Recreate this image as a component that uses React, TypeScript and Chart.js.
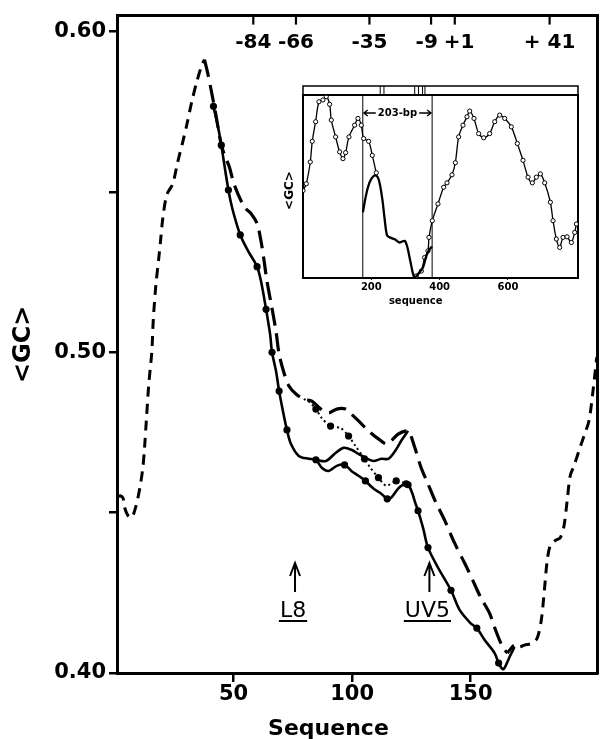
import React, { useEffect, useRef } from "react";
import { Chart, registerables } from "chart.js";

Chart.register(...registerables);

// ---------------- main chart data ----------------
const xRange = [0.8, 203.3];
const yRange = [0.4, 0.605];
const xTickValues = [50, 100, 150];
const yTickValues = [0.4, 0.45, 0.5, 0.55, 0.6];
const yTickLabels = ["0.40", "", "0.50", "", "0.60"];
// promoter coordinates on the top axis (sequence position minus offset)
const promoterOffset = 142.3;
const topTickValues = [-84, -66, -35, -9, 1, 41];
const topTickLabels = ["-84", "-66", "-35", "-9", "+1", "+ 41"];
const mutantLabels = ["L8", "UV5"];
const mutantSites = [75.9, 132.6];

// short-dashed profile, left part
const curveA: [number, number][] = [
  [0.8, 0.4547], [2.1, 0.4553], [3.4, 0.4544], [4.0, 0.4516], [5.5, 0.449], [7.0, 0.4484],
  [8.8, 0.452], [10.5, 0.458], [11.7, 0.464], [12.4, 0.47], [13.2, 0.479], [14.2, 0.49],
  [15.5, 0.5003], [16.1, 0.51], [17.2, 0.521], [18.4, 0.5292], [19.2, 0.535], [20.1, 0.5416],
  [21.8, 0.5491], [24.3, 0.5525], [26.4, 0.5593], [28.5, 0.5655], [30.2, 0.5708], [32.3, 0.578],
  [34.4, 0.5842], [36.5, 0.5894], [37.7, 0.5913],
];
// long-dashed profile
const curveB: [number, number][] = [
  [37.7, 0.5913], [39.0, 0.5873], [40.7, 0.5811], [42.7, 0.5733], [44.8, 0.5646], [46.5, 0.5609],
  [48.2, 0.5578], [50.3, 0.5522], [54.5, 0.5453], [57.4, 0.5432], [59.9, 0.5401], [61.6, 0.5345],
  [62.9, 0.5283], [64.1, 0.522], [66.2, 0.5137], [67.9, 0.5065], [69.2, 0.4994], [71.3, 0.4935],
  [73.4, 0.4894], [76.3, 0.487], [79.6, 0.4854], [83.0, 0.4848], [86.8, 0.4823], [90.1, 0.4811],
  [93.5, 0.4823], [97.2, 0.4823], [99.7, 0.4807], [102.7, 0.4786], [106.9, 0.4755], [111.1, 0.473],
  [114.4, 0.4714], [116.5, 0.4724], [119.4, 0.4745], [122.8, 0.4755], [124.1, 0.4752], [126.6, 0.4699],
  [129.1, 0.464], [132.0, 0.459], [135.0, 0.4537], [139.1, 0.4475], [143.3, 0.4404], [147.5, 0.4342],
  [150.9, 0.4289], [154.2, 0.4236], [158.0, 0.4186], [160.5, 0.4134], [163.5, 0.4081], [165.5, 0.4062],
];
// short-dashed profile, right part
const curveC: [number, number][] = [
  [165.5, 0.4062], [166.4, 0.4071], [168.5, 0.4087], [170.6, 0.4081], [172.7, 0.4087], [176.0, 0.4093],
  [178.1, 0.4109], [179.8, 0.4165], [181.1, 0.4258], [182.3, 0.4351], [183.6, 0.4398], [185.7, 0.4413],
  [187.8, 0.4422], [189.4, 0.446], [190.7, 0.4537], [192.0, 0.4615], [193.6, 0.4646], [195.7, 0.4693],
  [197.8, 0.4739], [199.9, 0.4786], [201.6, 0.4879], [203.2, 0.4985],
];
// solid profile with filled dots
const curveD: [number, number][] = [
  [41.5, 0.5767], [43.6, 0.5696], [44.8, 0.5646], [47.8, 0.5506], [49.5, 0.5447], [52.8, 0.5366],
  [56.2, 0.5315], [59.9, 0.5267], [61.6, 0.522], [63.7, 0.5134], [65.4, 0.5056], [66.2, 0.5],
  [67.9, 0.4941], [69.2, 0.4879], [70.8, 0.4817], [72.5, 0.4758], [74.2, 0.4714], [77.5, 0.4677],
  [81.7, 0.4668], [84.7, 0.4665], [87.2, 0.464], [90.1, 0.463], [93.5, 0.4646], [96.8, 0.4649],
  [99.7, 0.463], [102.7, 0.4615], [105.6, 0.4599], [109.0, 0.4575], [112.3, 0.4559], [114.8, 0.4543],
  [116.5, 0.4547], [119.4, 0.4575], [121.5, 0.4587], [123.6, 0.4587], [125.3, 0.4562], [126.6, 0.4531],
  [127.8, 0.4506], [130.0, 0.445], [132.0, 0.4391], [136.2, 0.4329], [141.7, 0.4258], [145.4, 0.4196],
  [150.0, 0.4155], [152.6, 0.414], [155.9, 0.4103], [160.1, 0.4062], [161.8, 0.4031], [163.5, 0.4012],
  [164.3, 0.4016], [166.4, 0.405], [168.5, 0.4081],
];
const dotsD: [number, number][] = [
  [41.5, 0.5767], [44.8, 0.5646], [47.8, 0.5506], [52.8, 0.5366], [59.9, 0.5267], [63.7, 0.5134],
  [66.2, 0.5], [69.2, 0.4879], [72.5, 0.4758], [84.7, 0.4665], [96.8, 0.4649], [105.6, 0.4599],
  [114.8, 0.4543], [123.6, 0.4587], [127.8, 0.4506], [132.0, 0.4391], [141.7, 0.4258], [152.6, 0.414],
  [161.8, 0.4031],
];
// upper solid profile without dots
const curveE: [number, number][] = [
  [84.7, 0.4665], [88.9, 0.4661], [93.0, 0.4686], [96.4, 0.4702], [99.7, 0.4696], [102.7, 0.4683],
  [105.6, 0.4671], [109.0, 0.4661], [112.3, 0.4668], [115.3, 0.4668], [118.2, 0.4693], [120.7, 0.4724],
  [123.6, 0.4755],
];
// dotted profile with dots
const curveF: [number, number][] = [
  [79.6, 0.4854], [82.0, 0.4845], [84.7, 0.4823], [87.2, 0.4795], [90.9, 0.477], [95.1, 0.4764],
  [98.5, 0.4739], [101.4, 0.4708], [105.2, 0.4668], [107.7, 0.464], [111.1, 0.4609], [114.4, 0.4584],
  [118.6, 0.4599], [122.8, 0.459],
];
const dotsF: [number, number][] = [
  [84.7, 0.4823], [90.9, 0.477], [98.5, 0.4739], [105.2, 0.4668], [111.1, 0.4609], [118.6, 0.4599],
  [122.8, 0.459],
];

// ---------------- inset data ----------------
const insetXRange = [0, 805];
const insetYRange = [0, 100];
const insetXTicks = [200, 400, 600];
const insetWindow = [175, 378];
const insetWindowLabel = "203-bp";
const insetMapMarks = [226, 237, 327, 338, 350, 357];
const insetI1: [number, number][] = [
  [0, 47.8], [9.6, 51.5], [21.3, 63.4], [27.1, 74.7], [36.9, 85.4], [46.7, 96.3], [58.4, 97.3],
  [68.1, 99.1], [77.9, 94.9], [82.8, 86.3], [95.5, 77.1], [107.2, 68.9], [116.9, 65.2], [124.7, 68.5],
  [134.5, 77.1], [151.1, 83.5], [160.9, 87.2], [170.6, 83.5], [177.5, 76.2], [192.1, 74.7],
  [202.8, 67.0], [214.5, 57.5],
];
const insetI2: [number, number][] = [
  [175.5, 35.9], [180.4, 41.4], [190.1, 49.6], [199.9, 54.2], [212.6, 56.1], [222.4, 53.3],
  [232.1, 43.2], [239.0, 32.2], [245.8, 23.4], [253.6, 22.2], [268.2, 21.2], [282.9, 19.4],
  [297.5, 20.3], [304.4, 17.6], [314.1, 9.3], [323.9, 1.1], [329.7, 0.6], [339.5, 2.9],
  [351.2, 5.7], [361.0, 12.1], [370.7, 15.8], [377.6, 17.2],
];
const insetI3: [number, number][] = [
  [331.7, 1.1], [346.3, 3.8], [356.1, 11.2], [365.8, 14.8], [368.8, 22.2], [378.5, 31.3],
  [395.1, 40.5], [411.7, 49.6], [421.5, 52.0], [436.1, 56.4], [445.9, 63.0], [455.6, 77.1],
  [468.3, 83.5], [480.0, 88.1], [487.9, 91.2], [500.5, 87.2], [514.2, 78.9], [528.9, 76.6],
  [546.4, 78.9], [561.1, 85.4], [575.7, 89.0], [590.4, 87.2], [609.9, 82.6], [627.4, 73.5],
  [644.0, 64.3], [658.7, 55.1], [671.3, 52.0], [683.1, 55.1], [694.8, 56.9], [707.5, 52.0],
  [724.1, 41.4], [731.9, 31.3], [741.6, 21.3], [751.4, 16.7], [761.2, 22.2], [772.9, 22.5],
  [785.6, 19.4], [795.3, 24.9], [800.2, 29.5],
];

const FONT = '"DejaVu Sans", sans-serif';
const toXY = (arr: [number, number][]) => arr.map(([x, y]) => ({ x, y }));

const mainDecor = {
  id: "mainDecor",
  afterDraw(chart: any) {
    const { ctx, chartArea } = chart;
    const x2 = chart.scales.x2;
    const xs = chart.scales.x;
    ctx.save();
    ctx.fillStyle = "#000";
    ctx.strokeStyle = "#000";
    // top promoter ticks and labels (inside frame)
    ctx.lineWidth = 2.2;
    ctx.font = `bold 20px ${FONT}`;
    ctx.textAlign = "center";
    ctx.textBaseline = "middle";
    const pxs = topTickValues.map((v) => x2.getPixelForValue(v));
    const widths = topTickLabels.map((t) => ctx.measureText(t).width);
    const centers = pxs.slice();
    const gap = 6;
    for (let i = 1; i < centers.length; i++) {
      const need = (widths[i - 1] + widths[i]) / 2 + gap;
      const have = centers[i] - centers[i - 1];
      if (have < need) {
        const d = (need - have) / 2;
        centers[i - 1] -= d;
        centers[i] += d;
      }
    }
    pxs.forEach((px, i) => {
      ctx.beginPath();
      ctx.moveTo(px, chartArea.top);
      ctx.lineTo(px, chartArea.top + 9);
      ctx.stroke();
      ctx.fillText(topTickLabels[i], centers[i], chartArea.top + 27);
    });
    // mutant arrows and labels
    ctx.font = `22px ${FONT}`;
    ctx.lineWidth = 2;
    mutantSites.forEach((v, i) => {
      const px = xs.getPixelForValue(v);
      const tip = chartArea.bottom - 110;
      ctx.beginPath();
      ctx.moveTo(px, chartArea.bottom - 81);
      ctx.lineTo(px, tip);
      ctx.moveTo(px - 5, tip + 13);
      ctx.lineTo(px, tip);
      ctx.lineTo(px + 5, tip + 13);
      ctx.stroke();
      ctx.textBaseline = "alphabetic";
      const w = ctx.measureText(mutantLabels[i]).width;
      ctx.fillText(mutantLabels[i], px - 2, chartArea.bottom - 56);
      ctx.beginPath();
      ctx.moveTo(px - 2 - w / 2 - 1, chartArea.bottom - 52);
      ctx.lineTo(px - 2 + w / 2 + 1, chartArea.bottom - 52);
      ctx.stroke();
    });
    // axis titles
    ctx.font = `bold 22px ${FONT}`;
    ctx.textAlign = "center";
    ctx.textBaseline = "alphabetic";
    ctx.fillText("Sequence", xs.getPixelForValue(90), chartArea.bottom + 62);
    ctx.translate(30, (chartArea.top + chartArea.bottom) / 2);
    ctx.rotate(-Math.PI / 2);
    ctx.font = `bold 24px ${FONT}`;
    ctx.fillText("<GC>", 0, 0);
    ctx.restore();
  },
};

const insetDecor = {
  id: "insetDecor",
  afterDraw(chart: any) {
    const { ctx, chartArea } = chart;
    const xs = chart.scales.x;
    ctx.save();
    ctx.fillStyle = "#000";
    ctx.strokeStyle = "#000";
    // gene map band on top
    ctx.lineWidth = 1.5;
    ctx.strokeRect(chartArea.left, chartArea.top - 9, chartArea.right - chartArea.left, 9);
    ctx.lineWidth = 1;
    insetMapMarks.forEach((v) => {
      const px = xs.getPixelForValue(v);
      ctx.beginPath();
      ctx.moveTo(px, chartArea.top - 9);
      ctx.lineTo(px, chartArea.top);
      ctx.stroke();
    });
    // 203-bp window label
    const l = xs.getPixelForValue(insetWindow[0]);
    const r = xs.getPixelForValue(insetWindow[1]);
    const cy = chartArea.top + 18;
    ctx.font = `bold 10px ${FONT}`;
    ctx.textAlign = "center";
    ctx.textBaseline = "middle";
    const w = ctx.measureText(insetWindowLabel).width;
    const cx = (l + r) / 2;
    ctx.fillText(insetWindowLabel, cx, cy);
    ctx.lineWidth = 1.3;
    ctx.beginPath();
    ctx.moveTo(cx - w / 2 - 2, cy);
    ctx.lineTo(l + 1, cy);
    ctx.moveTo(l + 5, cy - 3);
    ctx.lineTo(l + 1, cy);
    ctx.lineTo(l + 5, cy + 3);
    ctx.moveTo(cx + w / 2 + 2, cy);
    ctx.lineTo(r - 1, cy);
    ctx.moveTo(r - 5, cy - 3);
    ctx.lineTo(r - 1, cy);
    ctx.lineTo(r - 5, cy + 3);
    ctx.stroke();
    // axis titles
    ctx.font = `bold 10px ${FONT}`;
    ctx.fillText("sequence", xs.getPixelForValue(330), chartArea.bottom + 23);
    ctx.translate(10, (chartArea.top + chartArea.bottom) / 2 + 4);
    ctx.rotate(-Math.PI / 2);
    ctx.font = `bold 12px ${FONT}`;
    ctx.fillText("<GC>", 0, 0);
    ctx.restore();
  },
};

export default function App() {
  const mainRef = useRef<HTMLCanvasElement>(null);
  const insetRef = useRef<HTMLCanvasElement>(null);

  useEffect(() => {
    document.body.style.margin = "0";
    const black = "#000";
    const tickFont = { family: FONT, size: 21, weight: "bold" as const };

    const main = new Chart(mainRef.current!, {
      type: "line",
      data: {
        datasets: [
          { data: toXY(curveA), borderColor: black, borderWidth: 3, borderDash: [10, 7], pointRadius: 0, tension: 0.3 },
          { data: toXY(curveB), borderColor: black, borderWidth: 3.2, borderDash: [18, 8], pointRadius: 0, tension: 0.3 },
          { data: toXY(curveC), borderColor: black, borderWidth: 3, borderDash: [10, 7], pointRadius: 0, tension: 0.3 },
          { data: toXY(curveD), borderColor: black, borderWidth: 2.6, pointRadius: 0, tension: 0.3 },
          { data: toXY(dotsD), showLine: false, pointRadius: 3.6, pointBackgroundColor: black, pointBorderColor: black, pointBorderWidth: 0 },
          { data: toXY(curveE), borderColor: black, borderWidth: 2.6, pointRadius: 0, tension: 0.3 },
          { data: toXY(curveF), borderColor: black, borderWidth: 2, borderDash: [2, 3], pointRadius: 0, tension: 0.3 },
          { data: toXY(dotsF), showLine: false, pointRadius: 3.6, pointBackgroundColor: black, pointBorderColor: black, pointBorderWidth: 0 },
        ],
      },
      options: {
        responsive: false,
        animation: false,
        devicePixelRatio: 1,
        layout: { padding: 0 },
        plugins: { legend: { display: false }, tooltip: { enabled: false }, title: { display: false } },
        scales: {
          x: {
            type: "linear",
            position: "bottom",
            min: xRange[0],
            max: xRange[1],
            afterBuildTicks: (s: any) => {
              s.ticks = xTickValues.map((v) => ({ value: v }));
            },
            afterFit: (s: any) => {
              s.height = 66;
            },
            grid: { display: true, drawOnChartArea: false, drawTicks: true, tickLength: 9, lineWidth: 2.5, color: black },
            border: { display: true, width: 3, color: black },
            ticks: { font: tickFont, color: black, padding: 0, maxRotation: 0, autoSkip: false, callback: (v: any) => String(v) },
          },
          x2: {
            type: "linear",
            position: "top",
            min: xRange[0] - promoterOffset,
            max: xRange[1] - promoterOffset,
            afterFit: (s: any) => {
              s.height = 13;
            },
            grid: { display: false },
            ticks: { display: false },
            border: { display: true, width: 3, color: black },
          },
          y: {
            type: "linear",
            position: "left",
            min: yRange[0],
            max: yRange[1],
            afterBuildTicks: (s: any) => {
              s.ticks = yTickValues.map((v) => ({ value: v }));
            },
            afterFit: (s: any) => {
              s.width = 117;
            },
            grid: { display: true, drawOnChartArea: false, drawTicks: true, tickLength: 8, lineWidth: 2.5, color: black },
            border: { display: true, width: 3, color: black },
            ticks: { font: tickFont, color: black, padding: 3, autoSkip: false, callback: (_v: any, i: number) => yTickLabels[i] },
          },
          y2: {
            type: "linear",
            position: "right",
            min: yRange[0],
            max: yRange[1],
            afterFit: (s: any) => {
              s.width = 1;
            },
            grid: { display: false },
            ticks: { display: false },
            border: { display: true, width: 3, color: black },
          },
        },
      },
      plugins: [mainDecor],
    });

    const circlePoint = {
      pointRadius: 2.1,
      pointBackgroundColor: "#fff",
      pointBorderColor: black,
      pointBorderWidth: 1,
    };
    const inset = new Chart(insetRef.current!, {
      type: "line",
      data: {
        datasets: [
          { data: toXY(insetI1), borderColor: black, borderWidth: 1.3, tension: 0.3, ...circlePoint },
          { data: toXY(insetI2), borderColor: black, borderWidth: 2.3, tension: 0.3, pointRadius: 0 },
          { data: toXY(insetI3), borderColor: black, borderWidth: 1.3, tension: 0.3, ...circlePoint },
          { data: [{ x: insetWindow[0], y: insetYRange[0] }, { x: insetWindow[0], y: insetYRange[1] }], borderColor: black, borderWidth: 1, pointRadius: 0 },
          { data: [{ x: insetWindow[1], y: insetYRange[0] }, { x: insetWindow[1], y: insetYRange[1] }], borderColor: black, borderWidth: 1, pointRadius: 0 },
        ],
      },
      options: {
        responsive: false,
        animation: false,
        devicePixelRatio: 1,
        layout: { padding: 0 },
        plugins: { legend: { display: false }, tooltip: { enabled: false } },
        scales: {
          x: {
            type: "linear",
            position: "bottom",
            min: insetXRange[0],
            max: insetXRange[1],
            afterBuildTicks: (s: any) => {
              s.ticks = insetXTicks.map((v) => ({ value: v }));
            },
            afterFit: (s: any) => {
              s.height = 35;
            },
            grid: { display: true, drawOnChartArea: false, tickLength: 2, lineWidth: 1, color: black },
            border: { display: true, width: 2, color: black },
            ticks: { font: { family: FONT, size: 10, weight: "bold" }, color: black, padding: 1, maxRotation: 0, autoSkip: false },
          },
          x2: {
            type: "linear",
            position: "top",
            min: insetXRange[0],
            max: insetXRange[1],
            afterFit: (s: any) => {
              s.height = 17;
            },
            grid: { display: false },
            ticks: { display: false },
            border: { display: true, width: 2, color: black },
          },
          y: {
            type: "linear",
            position: "left",
            min: insetYRange[0],
            max: insetYRange[1],
            afterFit: (s: any) => {
              s.width = 23;
            },
            grid: { display: false },
            ticks: { display: false },
            border: { display: true, width: 2, color: black },
          },
          y2: {
            type: "linear",
            position: "right",
            min: insetYRange[0],
            max: insetYRange[1],
            afterFit: (s: any) => {
              s.width = 7;
            },
            grid: { display: false },
            ticks: { display: false },
            border: { display: true, width: 2, color: black },
          },
        },
      },
      plugins: [insetDecor],
    });

    return () => {
      main.destroy();
      inset.destroy();
    };
  }, []);

  return (
    <div style={{ position: "relative", width: 601, height: 739, background: "#fff", overflow: "hidden" }}>
      <canvas ref={mainRef} width={601} height={739} style={{ position: "absolute", left: 0, top: 0, width: 601, height: 739 }} />
      <canvas ref={insetRef} width={305} height={235} style={{ position: "absolute", left: 280, top: 78, width: 305, height: 235 }} />
    </div>
  );
}
